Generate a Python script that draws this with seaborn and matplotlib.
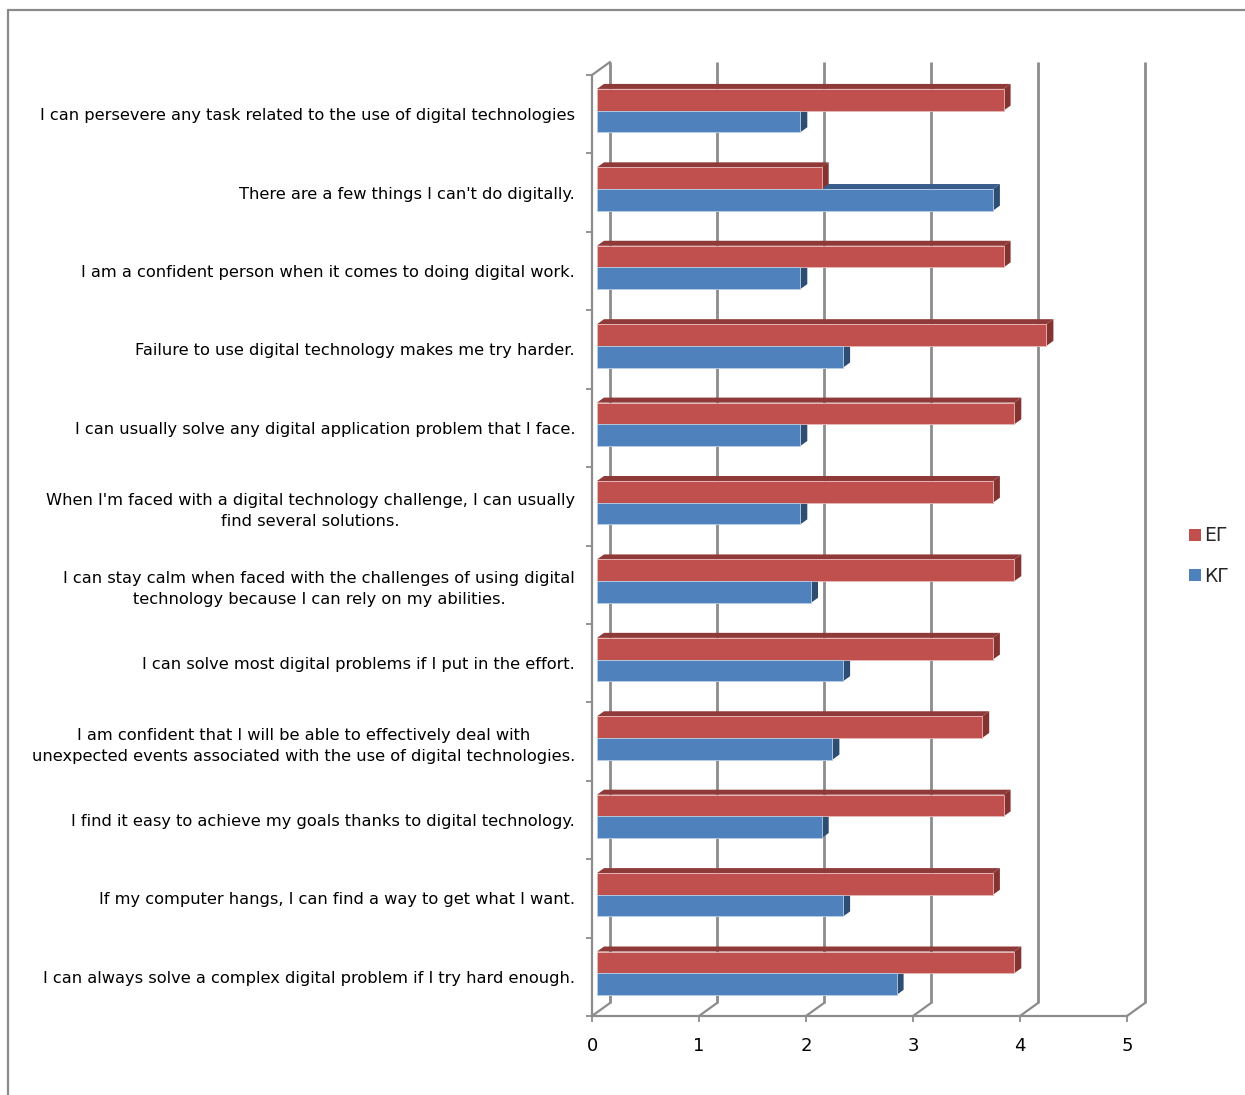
import numpy as np
import pandas as pd
import matplotlib
matplotlib.use("Agg")
import matplotlib.pyplot as plt
from matplotlib.transforms import ScaledTranslation
from matplotlib.patches import Polygon, Patch, Rectangle
from matplotlib.lines import Line2D
import seaborn as sns

statements = [
    "I can persevere any task related to the use of digital technologies",
    "There are a few things I can't do digitally.",
    "I am a confident person when it comes to doing digital work.",
    "Failure to use digital technology makes me try harder.",
    "I can usually solve any digital application problem that I face.",
    "When I'm faced with a digital technology challenge, I can usually\nfind several solutions.",
    "I can stay calm when faced with the challenges of using digital\ntechnology because I can rely on my abilities.",
    "I can solve most digital problems if I put in the effort.",
    "I am confident that I will be able to effectively deal with\nunexpected events associated with the use of digital technologies.",
    "I find it easy to achieve my goals thanks to digital technology.",
    "If my computer hangs, I can find a way to get what I want.",
    "I can always solve a complex digital problem if I try hard enough.",
]
eg_values = [3.8, 2.1, 3.8, 4.2, 3.9, 3.7, 3.9, 3.7, 3.6, 3.8, 3.7, 3.9]
kg_values = [1.9, 3.7, 1.9, 2.3, 1.9, 1.9, 2.0, 2.3, 2.2, 2.1, 2.3, 2.8]
groups = ["ЕГ", "КГ"]
x_ticks = [0, 1, 2, 3, 4, 5]

df = pd.DataFrame({
    "statement": statements * 2,
    "value": eg_values + kg_values,
    "group": [groups[0]] * len(statements) + [groups[1]] * len(statements),
})

sns.set_theme(style="white")
plt.rcParams["font.family"] = ["DejaVu Sans"]

W, H, DPI = 1245, 1095, 100
fig = plt.figure(figsize=(W / DPI, H / DPI), dpi=DPI)
fig.patch.set_facecolor("white")

# outer chart border (left and top visible)
fig.add_artist(Line2D([8 / W, 8 / W], [0, 1 - 10 / H], transform=fig.transFigure,
                      color="#8a8a8a", lw=1.6))
fig.add_artist(Line2D([8 / W, 1], [1 - 10 / H, 1 - 10 / H], transform=fig.transFigure,
                      color="#8a8a8a", lw=1.6))

x0, x1, ytop, ybot = 592, 1127, 75, 1016
ax = fig.add_axes([x0 / W, 1 - ybot / H, (x1 - x0) / W, (ybot - ytop) / H])

red = "#C0504D"
blue = "#4F81BD"
pal = {groups[0]: red, groups[1]: blue}
sns.barplot(data=df, y="statement", x="value", hue="group", hue_order=groups,
            palette=pal, orient="h", width=0.553, gap=0, saturation=1,
            legend=False, ax=ax, zorder=3)

ax.set_xlim(0, 5)
ax.set_ylim(len(statements) - 0.5, -0.5)
ax.set_xlabel("")
ax.set_ylabel("")
ax.set_facecolor("none")
for s in ["top", "right"]:
    ax.spines[s].set_visible(False)
for s in ["left", "bottom"]:
    ax.spines[s].set_color("#8c8c8c")
    ax.spines[s].set_linewidth(1.6)
    ax.spines[s].set_zorder(0.5)

ax.set_xticks(x_ticks)
ax.set_xticklabels([str(t) for t in x_ticks], fontsize=13, color="black")
ax.tick_params(axis="x", direction="out", length=4, width=1.3, color="#8c8c8c", pad=11,
               bottom=True)
ax.tick_params(axis="y", which="major", length=0, pad=12.2, labelsize=11.7, labelcolor="black")
ax.set_yticks(np.arange(-0.5, len(statements), 1.0), minor=True)
ax.tick_params(axis="y", which="minor", direction="out", length=4, width=1.3,
               color="#8c8c8c", left=True)
for lab in ax.get_yticklabels():
    lab.set_multialignment("center")
    lab.set_linespacing(1.5)

fig.canvas.draw()

px = 1.0 / DPI
# back wall offset (pixels)
bdx, bdy = 18, 13
back = ax.transData + ScaledTranslation(bdx * px, bdy * px, fig.dpi_scale_trans)
ylo, yhi = len(statements) - 0.5, -0.5
gcol = "#8c8c8c"
inv = ax.transData.inverted()
for t in x_ticks:
    ax.plot([t, t], [ylo, yhi], transform=back, color=gcol, lw=2.0, zorder=0.4,
            clip_on=False, solid_capstyle="butt")
    # floor diagonal
    p0 = ax.transData.transform((t, ylo))
    q1 = inv.transform(p0 + np.array([bdx, bdy]))
    ax.plot([t, q1[0]], [ylo, q1[1]], color=gcol, lw=1.6, zorder=0.4, clip_on=False)
# top left diagonal
p0 = ax.transData.transform((0, yhi))
q1 = inv.transform(p0 + np.array([bdx, bdy]))
ax.plot([0, q1[0]], [yhi, q1[1]], color=gcol, lw=1.6, zorder=0.4, clip_on=False)

# 3D bar effect
fdx, fdy = 5, 3.6      # front face offset
ddx, ddy = 7, 5        # depth of bar
front = ax.transData + ScaledTranslation(fdx * px, fdy * px, fig.dpi_scale_trans)
dark = {red: ("#8F3A38", "#853331"), blue: ("#385D8A", "#2E4D73")}
bars = [p for p in ax.patches if isinstance(p, Rectangle)]
for p in bars:
    fc = matplotlib.colors.to_hex(p.get_facecolor())
    key = red if fc.lower() == red.lower() else blue
    top_c, side_c = dark[key]
    bx, by, bw, bh = p.get_x(), p.get_y(), p.get_width(), p.get_height()
    a = ax.transData.transform((bx, by))
    b = ax.transData.transform((bx + bw, by + bh))
    L, R = min(a[0], b[0]) + fdx, max(a[0], b[0]) + fdx
    B, T = min(a[1], b[1]) + fdy, max(a[1], b[1]) + fdy
    topv = [(L, T), (R, T), (R + ddx, T + ddy), (L + ddx, T + ddy)]
    sidev = [(R, B), (R + ddx, B + ddy), (R + ddx, T + ddy), (R, T)]
    ax.add_patch(Polygon(inv.transform(topv), closed=True, facecolor=top_c,
                         edgecolor="none", zorder=1.5, clip_on=False))
    ax.add_patch(Polygon(inv.transform(sidev), closed=True, facecolor=side_c,
                         edgecolor="none", zorder=2.0, clip_on=False))
    p.set_transform(front)
    p.set_zorder(3)
    p.set_clip_on(False)
    p.set_edgecolor("#e6b9b8" if key == red else "#b9cde5")
    p.set_linewidth(0.6)

# legend
handles = [Patch(facecolor=red, edgecolor="none", label=groups[0]),
           Patch(facecolor=blue, edgecolor="none", label=groups[1])]
fig.legend(handles=handles, loc="center left", bbox_to_anchor=(1180 / W, 1 - 556 / H),
           frameon=False, fontsize=13.5, handlelength=0.6, handleheight=0.6,
           handletextpad=0.2, labelspacing=1.15, borderpad=0)

fig.savefig("out.png", dpi=DPI, facecolor="white")
